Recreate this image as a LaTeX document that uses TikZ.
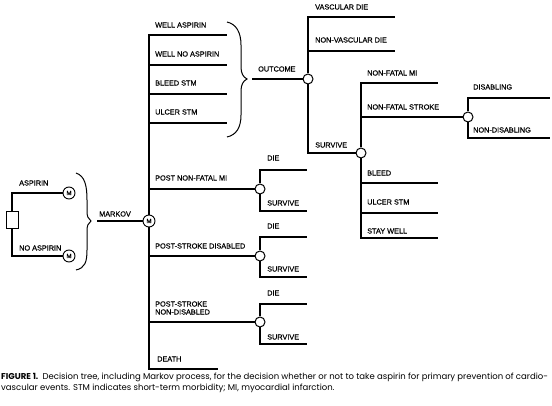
\documentclass[tikz,border=0pt]{standalone}
\usepackage{fontspec}
\setmainfont{Liberation Sans}[FakeBold=0.4]
\newfontfamily\capfont{Poppins}
\begin{document}
\begin{tikzpicture}[x=1pt,y=-1pt,
  br/.style={line width=1.1pt},
  lbl/.style={anchor=west,inner sep=0pt,font=\fontsize{7.3}{8}\selectfont},
  chance/.style={circle,draw,fill=white,line width=1pt,minimum size=10pt,inner sep=0pt},
  mnode/.style={circle,draw,fill=white,line width=0.9pt,minimum size=12pt,inner sep=0pt,font=\fontsize{6}{6}\selectfont},
  decbox/.style={draw,line width=1pt,minimum width=12pt,minimum height=17pt,inner sep=0pt},
  brc/.style={line width=1pt}]
\useasboundingbox (0,0) rectangle (552,406);

% ---------- decision ----------
\node[decbox] (dec) at (12,220) {};
\node[mnode] (ma) at (69,193) {M};
\node[mnode] (mna) at (69,256) {M};
\draw[br] (dec.north) |- (ma);
\draw[br] (dec.south) |- (mna);
\node[lbl] (lasp) at (19,183) {ASPIRIN};
\node[lbl] (lnasp) at (19,248) {NO ASPIRIN};
\draw[brc] (76,173) .. controls (85,176) and (87,186) .. (87,200) -- (87,211)
  .. controls (87,216) and (88,219) .. (91,221) .. controls (88,223) and (87,226) .. (87,231)
  -- (87,250) .. controls (87,262) and (85,268) .. (76,270);

% ---------- Markov ----------
\coordinate (mk) at (97,221);
\node[mnode] (m) at (149,221) {M};
\draw[br] (mk) -- (m);
\node[lbl] (lmk) at (99,214) {MARKOV};

\coordinate (wa) at (227,35);
\coordinate (wna) at (227,65);
\coordinate (bs) at (227,94);
\coordinate (us) at (227,123);
\coordinate (death) at (218,369);
\node[chance] (mic) at (260,189) {};
\node[chance] (sdc) at (260,256) {};
\node[chance] (snc) at (260,322) {};
\draw[br] (m.north) |- (wa);
\draw[br] (m.south) |- (death);
\draw[br] (m |- wna) -- (wna);
\draw[br] (m |- bs) -- (bs);
\draw[br] (m |- us) -- (us);
\draw[br] (m |- mic) -- (mic);
\draw[br] (m |- sdc) -- (sdc);
\draw[br] (m |- snc) -- (snc);
\node[lbl] (lwa) at (155,25) {WELL ASPIRIN};
\node[lbl] (lwna) at (155,54) {WELL NO ASPIRIN};
\node[lbl] (lbs) at (155,83) {BLEED STM};
\node[lbl] (lus) at (155,112) {ULCER STM};
\node[lbl] (lmi) at (155,178) {POST NON-FATAL MI};
\node[lbl] (lsd) at (155,246) {POST-STROKE DISABLED};
\node[lbl,align=left] (lsn) at (155,308) {POST-STROKE\\NON-DISABLED};
\node[lbl] (ldeath) at (157,359) {DEATH};

% sub-trees of Markov states
\coordinate (mid) at (307,170);
\coordinate (mis) at (307,211);
\draw[br] (mic.north) |- (mid);
\draw[br] (mic.south) |- (mis);
\node[lbl] (lmid) at (267,158) {DIE};
\node[lbl] (lmis) at (267,203) {SURVIVE};

\coordinate (sdd) at (307,237);
\coordinate (sds) at (307,277);
\draw[br] (sdc.north) |- (sdd);
\draw[br] (sdc.south) |- (sds);
\node[lbl] (lsdd) at (267,226) {DIE};
\node[lbl] (lsds) at (267,269) {SURVIVE};

\coordinate (snd) at (307,304);
\coordinate (sns) at (307,344);
\draw[br] (snc.north) |- (snd);
\draw[br] (snc.south) |- (sns);
\node[lbl] (lsnd) at (267,293) {DIE};
\node[lbl] (lsns) at (267,337) {SURVIVE};

% ---------- Outcome ----------
\draw[brc] (227,22) .. controls (236,24) and (241,32) .. (241,45) -- (241,67)
  .. controls (241,73) and (243,77) .. (247,79) .. controls (243,81) and (241,85) .. (241,91)
  -- (241,115) .. controls (241,128) and (236,135) .. (227,137);
\coordinate (oin) at (252,79);
\node[chance] (oc) at (308,79) {};
\draw[br] (oin) -- (oc);
\node[lbl] (loc) at (258,69) {OUTCOME};

\coordinate (vd) at (395,17);
\coordinate (nvd) at (395,51);
\node[chance] (sc) at (361,153) {};
\draw[br] (oc.north) |- (vd);
\draw[br] (oc |- nvd) -- (nvd);
\draw[br] (oc.south) |- (sc);
\node[lbl] (lvd) at (315,7) {VASCULAR DIE};
\node[lbl] (lnvd) at (315,40) {NON-VASCULAR DIE};
\node[lbl] (lsc) at (315,145) {SURVIVE};

% ---------- Survive ----------
\coordinate (nfmi) at (438,83);
\node[chance] (stc) at (468,117) {};
\coordinate (bl) at (438,183);
\coordinate (ul) at (438,213);
\coordinate (sw) at (438,238);
\draw[br] (sc.north) |- (nfmi);
\draw[br] (sc.south) |- (sw);
\draw[br] (sc |- stc) -- (stc);
\draw[br] (sc |- bl) -- (bl);
\draw[br] (sc |- ul) -- (ul);
\node[lbl] (lnfmi) at (367,73) {NON-FATAL MI};
\node[lbl] (lnfs) at (367,107) {NON-FATAL STROKE};
\node[lbl] (lbl) at (367,173) {BLEED};
\node[lbl] (lul) at (367,202) {ULCER STM};
\node[lbl] (lsw) at (367,231) {STAY WELL};

% ---------- Stroke ----------
\coordinate (dis) at (550,98);
\coordinate (ndis) at (550,138);
\draw[br] (stc.north) |- (dis);
\draw[br] (stc.south) |- (ndis);
\node[lbl] (ldis) at (473,87) {DISABLING};
\node[lbl] (lndis) at (473,130) {NON-DISABLING};

% ---------- caption ----------
\node[anchor=north west,inner sep=0pt,align=left,font=\capfont\fontsize{8.5}{10.5}\selectfont] (cap) at (1,373)
 {\textbf{FIGURE 1.}\enspace Decision tree, including Markov process, for the decision whether or not to take aspirin for primary prevention of cardio-\\
  vascular events. STM indicates short-term morbidity; MI, myocardial infarction.};
\end{tikzpicture}
\end{document}
